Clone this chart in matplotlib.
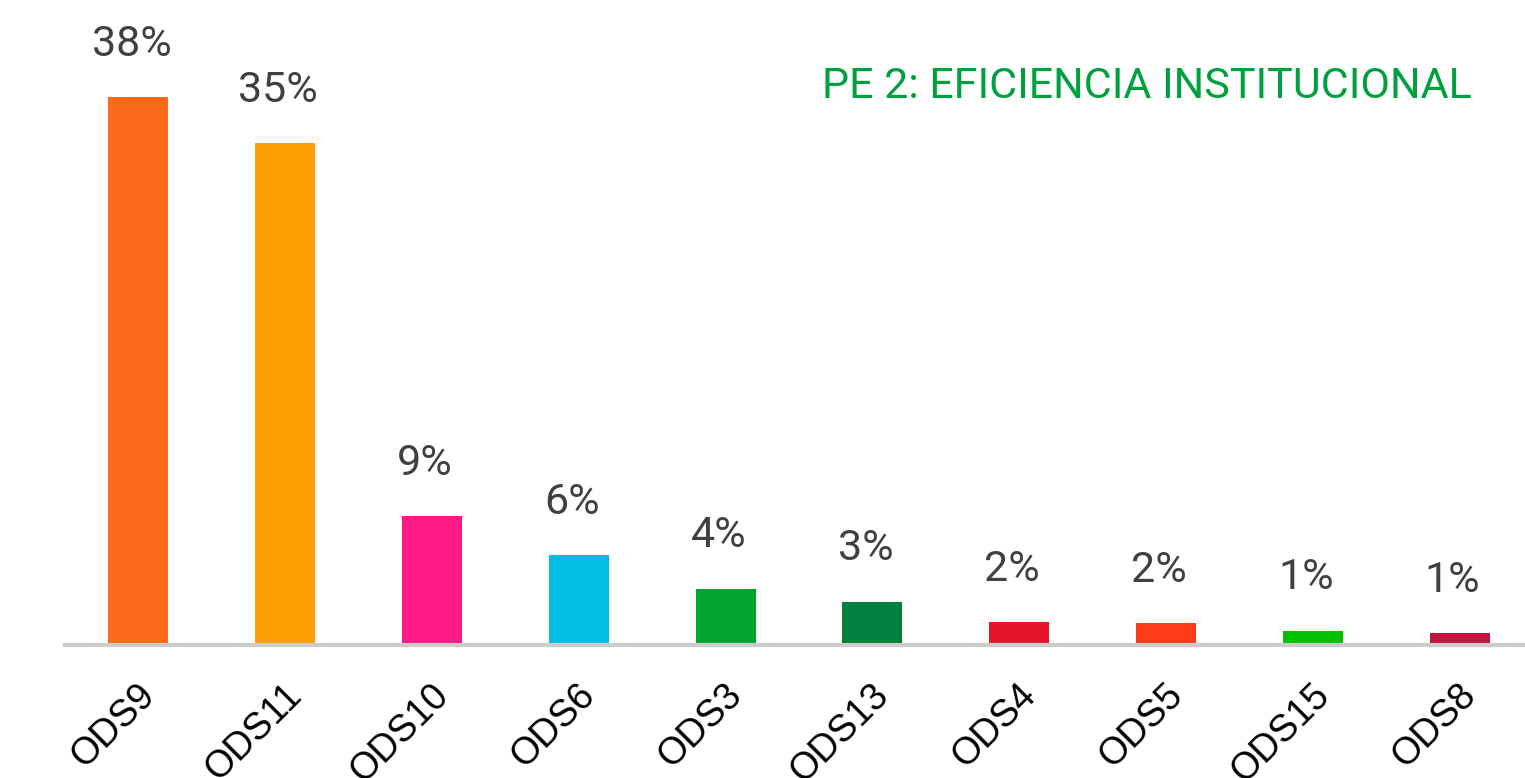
import matplotlib.pyplot as plt
import matplotlib.transforms as mtransforms
import numpy as np

categories = ["ODS9", "ODS11", "ODS10", "ODS6", "ODS3", "ODS13", "ODS4", "ODS5", "ODS15", "ODS8"]
values = [37.9, 34.7, 8.9, 6.2, 3.9, 3.0, 1.6, 1.5, 1.0, 0.8]
labels = ["38%", "35%", "9%", "6%", "4%", "3%", "2%", "2%", "1%", "1%"]
colors = ["#FD6A1C", "#FE9E00", "#FF1A86", "#00BEE3", "#00A32E",
          "#007F3F", "#E5152D", "#FF3A1A", "#00C000", "#C1143F"]
title = "PE 2: EFICIENCIA INSTITUCIONAL"

fig = plt.figure(figsize=(15.25, 7.78), dpi=100)
ax = fig.add_axes([65 / 1525, 133 / 778, 1468 / 1525, 645 / 778])

x = np.arange(len(categories))
ax.bar(x, values, width=0.41, color=colors, zorder=2)
ax.set_xlim(-0.5, len(categories) - 0.5)
ax.set_ylim(0, 44.6)

for xi, v, lab in zip(x, values, labels):
    ax.annotate(lab, (xi, v), xytext=(-5, 38), textcoords="offset points",
                ha="center", va="center", fontsize=31, color="#404040",
                family="Roboto")

ax.set_xticks(x)
ax.set_xticklabels(categories, rotation=45, ha="right", va="center",
                   rotation_mode="anchor", fontsize=27, family="Liberation Sans",
                   color="black")
ax.tick_params(axis="x", length=0, pad=30)
shift = mtransforms.ScaledTranslation(11 / 100, -3 / 100, fig.dpi_scale_trans)
for t in ax.get_xticklabels():
    t.set_transform(t.get_transform() + shift)
ax.set_yticks([])
for s in ["top", "right", "left"]:
    ax.spines[s].set_visible(False)
ax.spines["bottom"].set_color("#CCCCCC")
ax.spines["bottom"].set_linewidth(3)

fig.text(1472 / 1525, 1 - 87 / 778, title, ha="right", va="center",
         fontsize=31, color="#00A03E", family="Roboto")

fig.savefig("out.png", dpi=100)
